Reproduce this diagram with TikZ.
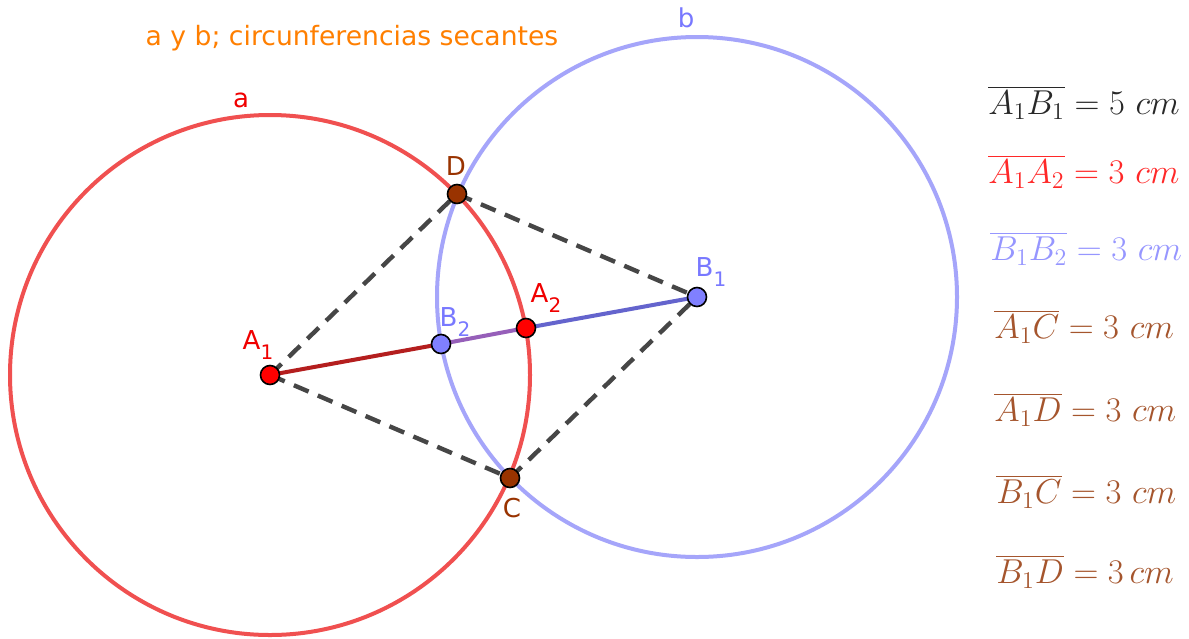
\documentclass[tikz,border=0pt]{standalone}
\usepackage{fontspec}
\setsansfont{DejaVu Sans}
\definecolor{circAcol}{RGB}{240,80,80}
\definecolor{circBcol}{RGB}{165,165,250}
\definecolor{ptA}{RGB}{255,0,0}
\definecolor{ptB}{RGB}{128,128,255}
\definecolor{ptD}{RGB}{153,51,0}
\definecolor{labA}{RGB}{240,0,0}
\definecolor{labB}{RGB}{120,120,255}
\definecolor{labD}{RGB}{153,51,0}
\definecolor{ttl}{RGB}{255,127,0}
\definecolor{segR}{RGB}{180,30,30}
\definecolor{segP}{RGB}{150,95,185}
\definecolor{segB}{RGB}{100,100,205}
\definecolor{dashc}{RGB}{70,70,70}
\definecolor{fBlack}{RGB}{40,40,40}
\definecolor{fRed}{RGB}{255,40,40}
\definecolor{fBlue}{RGB}{150,150,255}
\definecolor{fBrown}{RGB}{165,85,45}
\newcommand{\gsub}[1]{\raisebox{-5pt}{\fontsize{10}{12}\selectfont #1}}
\begin{document}
\begin{tikzpicture}[x=0.5pt,y=-0.5pt,
  dot/.style={circle,draw=black,line width=0.8pt,inner sep=0pt,minimum size=9.5pt},
  dashline/.style={draw=dashc,line width=2.2pt,dash pattern=on 8pt off 5pt},
  circline/.style={line width=2pt},
  seg/.style={line width=2pt},
  lab/.style={font=\sffamily\fontsize{13}{15}\selectfont,inner sep=0pt},
  fml/.style={font=\fontsize{17.7}{20}\selectfont,anchor=west,inner sep=0pt}]
\useasboundingbox (0,0) rectangle (1189,638);
\fill[white] (0,0) rectangle (1189,638);
% points
\coordinate (cA1) at (270,375);
\coordinate (cB1) at (697,297);
\coordinate (cA2) at (526,328);
\coordinate (cB2) at (441,344);
\coordinate (cD) at (457,194);
\coordinate (cC) at (510,478);
% circles
\draw[circline,draw=circAcol] (cA1) circle[radius=130pt];
\draw[circline,draw=circBcol] (cB1) circle[radius=130pt];
% dashed
\draw[dashline] (cA1) -- (cD);
\draw[dashline] (cD) -- (cB1);
\draw[dashline] (cA1) -- (cC);
\draw[dashline] (cC) -- (cB1);
% segment
\draw[seg,draw=segR] (cA1) -- (cB2);
\draw[seg,draw=segP] (cB2) -- (cA2);
\draw[seg,draw=segB] (cA2) -- (cB1);
% dots
\node[dot,fill=ptA] (A1) at (cA1) {};
\node[dot,fill=ptA] (A2) at (cA2) {};
\node[dot,fill=ptB] (B1) at (cB1) {};
\node[dot,fill=ptB] (B2) at (cB2) {};
\node[dot,fill=ptD] (D) at (cD) {};
\node[dot,fill=ptD] (C) at (cC) {};
% labels
\node[lab,text=labA] (lA1) at (258,345) {A\gsub{1}};
\node[lab,text=labA] (lA2) at (546,298) {A\gsub{2}};
\node[lab,text=labB] (lB2) at (455,322) {B\gsub{2}};
\node[lab,text=labB] (lB1) at (711,272) {B\gsub{1}};
\node[lab,text=labD] (lD) at (456,166) {D};
\node[lab,text=labD] (lC) at (512,508) {C};
\node[lab,text=labA] (la) at (241,100) {a};
\node[lab,text=labB] (lb) at (686,18) {b};
\node[lab,text=ttl,font=\sffamily\fontsize{13.3}{15}\selectfont] (title) at (352,38) {a y b; circunferencias secantes};
% formulas
\node[fml,text=fBlack] (f1) at (988,103) {$\overline{A_1B_1} = 5\ cm$};
\node[fml,text=fRed] (f2) at (988,172) {$\overline{A_1A_2} = 3\ cm$};
\node[fml,text=fBlue] (f3) at (990,249) {$\overline{B_1B_2} = 3\ cm$};
\node[fml,text=fBrown] (f4) at (994,327) {$\overline{A_1C} = 3\ cm$};
\node[fml,text=fBrown] (f5) at (994,410) {$\overline{A_1D} = 3\ cm$};
\node[fml,text=fBrown] (f6) at (996,492) {$\overline{B_1C} = 3\ cm$};
\node[fml,text=fBrown] (f7) at (996,572) {$\overline{B_1D} = 3\,cm$};
\end{tikzpicture}
\end{document}
